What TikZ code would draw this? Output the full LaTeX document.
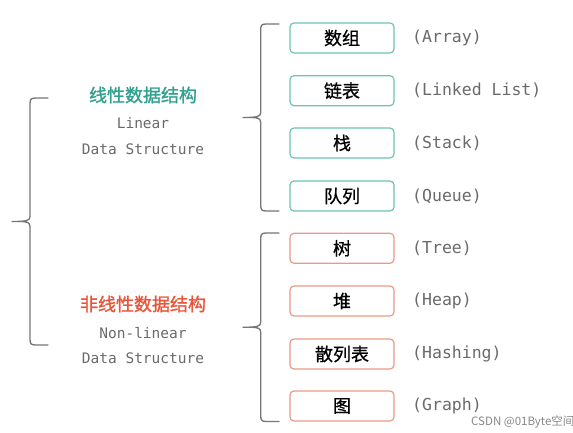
\documentclass[tikz,border=0pt]{standalone}
\usepackage{fontspec}
\newfontfamily\cjk{Noto Sans CJK SC}
\newfontfamily\cjkm[FakeBold=1.3]{Noto Sans CJK SC}
\newfontfamily\cjkb[FakeBold=0.8]{Noto Sans CJK SC}
\newfontfamily\mono{DejaVu Sans Mono}
\definecolor{teal1}{HTML}{2FA18E}
\definecolor{tealbox}{HTML}{6CC4B5}
\definecolor{red1}{HTML}{E8563A}
\definecolor{redbox}{HTML}{E99A86}
\definecolor{bracegray}{HTML}{757575}
\definecolor{labelgray}{HTML}{6A6A6A}
\tikzset{
  x=1pt, y=-1pt,
  itembox/.style={draw, line width=1.2pt, rounded corners=4pt, minimum width=104pt, minimum height=30pt, inner sep=0pt, font=\cjkb\fontsize{18}{20}\selectfont, text=black},
  linbox/.style={itembox, draw=tealbox},
  nlinbox/.style={itembox, draw=redbox},
  enlabel/.style={anchor=west, inner sep=0pt, text=labelgray, font=\mono\fontsize{16.5}{18}\selectfont},
  subtitle/.style={inner sep=0pt, text=labelgray, font=\mono\fontsize{14.5}{16}\selectfont},
  cntitle/.style={inner sep=0pt, font=\cjkm\fontsize{18}{20}\selectfont},
  bracepath/.style={draw=bracegray, line width=1.3pt, line cap=round},
}
\newcommand{\mybrace}[5]{% x of vertical, top, bottom, tip x, right end x
  \pgfmathsetmacro{\midy}{(#2+#3)/2}
  \draw[bracepath] (#5,#2) -- (#1+6,#2) .. controls (#1+1,#2) and (#1,#2+1) .. (#1,#2+6)
    -- (#1,\midy-5) .. controls (#1,\midy-1) and (#1-3,\midy) .. (#4,\midy)
    (#1,\midy+5) .. controls (#1,\midy+1) and (#1-3,\midy) .. (#4+8,\midy)
    (#1,\midy+5) -- (#1,#3-6) .. controls (#1,#3-1) and (#1+1,#3) .. (#1+6,#3) -- (#5,#3);
}
\begin{document}
\begin{tikzpicture}
\useasboundingbox[fill=white] (0,0) rectangle (573,433);

% left big brace
\mybrace{30}{98}{345}{12}{48}
% right braces
\mybrace{260.7}{24}{211}{243}{279}
\mybrace{260.7}{233}{421.5}{243}{279}

% titles
\node[cntitle, text=teal1] (lt) at (143,95) {线性数据结构};
\node[subtitle] (lt1) at (143,123.5) {Linear};
\node[subtitle] (lt2) at (143,149.5) {Data Structure};
\node[cntitle, text=red1] (nt) at (143,304) {非线性数据结构};
\node[subtitle] (nt1) at (143,333.5) {Non-linear};
\node[subtitle] (nt2) at (143,358.5) {Data Structure};

% linear boxes
\node[linbox] (b1) at (342,38) {数组};
\node[linbox] (b2) at (342,90.7) {链表};
\node[linbox] (b3) at (342,143) {栈};
\node[linbox] (b4) at (342,196) {队列};
\node[enlabel] (e1) at (412,38) {(Array)};
\node[enlabel] (e2) at (412,90.7) {(Linked List)};
\node[enlabel] (e3) at (412,143) {(Stack)};
\node[enlabel] (e4) at (412,196) {(Queue)};

% non-linear boxes
\node[nlinbox] (n1) at (342,248.3) {树};
\node[nlinbox] (n2) at (342,301) {堆};
\node[nlinbox] (n3) at (342,354) {散列表};
\node[nlinbox] (n4) at (342,406) {图};
\node[enlabel] (f1) at (412,248.3) {(Tree)};
\node[enlabel] (f2) at (412,301) {(Heap)};
\node[enlabel] (f3) at (412,354) {(Hashing)};
\node[enlabel] (f4) at (412,406) {(Graph)};

% watermark
\node[anchor=west, inner sep=0pt, text=labelgray!80, font=\cjk\fontsize{11.5}{13}\selectfont] (wm) at (471,422) {CSDN @01Byte空间};
\end{tikzpicture}
\end{document}
